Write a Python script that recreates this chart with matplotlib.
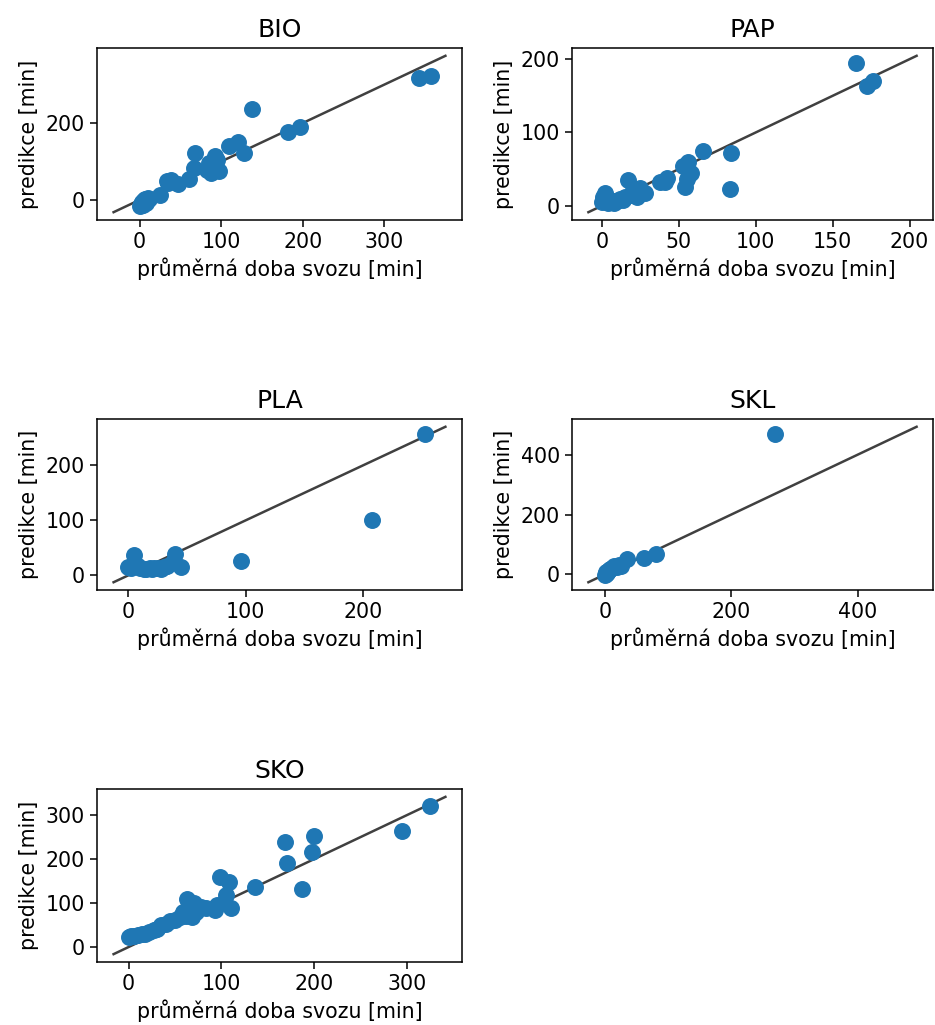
import matplotlib
matplotlib.use("Agg")
import matplotlib.pyplot as plt

W, H = 935, 1025

bio_x = [0, 2, 3, 4, 5, 6, 8, 10, 12, 25, 33, 35, 38, 47, 60, 67, 68, 82, 85, 87, 92, 95, 97, 110, 120, 128, 138, 182, 197, 343, 357]
bio_y = [-15, -10, -5, -12, 0, 3, -8, 5, 2, 13, 50, 45, 52, 42, 54, 83, 122, 78, 96, 70, 113, 105, 74, 141, 150, 122, 236, 176, 190, 317, 323]

pap_x = [0, 0.5, 1, 2, 3, 4, 5, 7, 8, 10, 12, 14, 15, 17, 19, 20, 22, 23, 25, 28, 38, 41, 42, 53, 54, 55, 56, 58, 66, 83, 84, 165, 172, 176]
pap_y = [5, 12, 8, 17, 10, 4, 7, 6, 4, 6, 9, 8, 12, 35, 15, 22, 17, 12, 24, 17, 33, 33, 38, 54, 26, 36, 60, 45, 74, 23, 72, 195, 163, 170]

pla_x = [0, 2, 4, 5, 8, 10, 13, 15, 18, 20, 22, 25, 28, 30, 33, 38, 40, 45, 96, 208, 253]
pla_y = [15, 14, 18, 36, 16, 13, 12, 12, 13, 12, 13, 14, 12, 15, 17, 24, 39, 15, 26, 101, 258]

skl_x = [0, 1, 2, 3, 4, 6, 8, 10, 14, 18, 22, 25, 34, 61, 81, 269]
skl_y = [-3, 2, 8, 5, 12, 14, 18, 22, 27, 25, 30, 28, 50, 53, 68, 470]

sko_x = [0, 3, 6, 10, 14, 18, 22, 27, 30, 35, 40, 44, 50, 55, 58, 62, 63, 66, 68, 70, 72, 75, 78, 83, 93, 95, 98, 105, 108, 110, 136, 168, 171, 187, 198, 200, 294, 325]
sko_y = [22, 24, 26, 27, 29, 30, 34, 38, 42, 50, 52, 58, 62, 68, 80, 70, 109, 95, 68, 100, 80, 88, 92, 88, 85, 96, 160, 119, 148, 88, 137, 238, 192, 131, 217, 252, 263, 321]

titles = ["BIO", "PAP", "PLA", "SKL", "SKO"]
datasets = [(bio_x, bio_y), (pap_x, pap_y), (pla_x, pla_y), (skl_x, skl_y), (sko_x, sko_y)]
xticks_all = [[0, 100, 200, 300], [0, 50, 100, 150, 200], [0, 100, 200], [0, 200, 400], [0, 100, 200, 300]]
yticks_all = [[0, 200], [0, 100, 200], [0, 100, 200], [0, 200, 400], [0, 100, 200, 300]]

xlabel = "průměrná doba svozu [min]"
ylabel = "predikce [min]"

# axes pixel boxes: (left, right) and (top, bottom)
cols = [(97, 462), (572, 933)]
rows = [(48, 220), (419, 590), (789, 962)]

fig = plt.figure(figsize=(W / 100, H / 100), dpi=100)
for i, (title, (xs, ys)) in enumerate(zip(titles, datasets)):
    r, c = divmod(i, 2)
    l, rr = cols[c]
    t, b = rows[r]
    ax = fig.add_axes([l / W, 1 - b / H, (rr - l) / W, (b - t) / H])
    ax.scatter(xs, ys, s=125, color="#1f77b4", zorder=2)
    xl = ax.get_xlim()
    yl = ax.get_ylim()
    lims = [min(xl[0], yl[0]), max(xl[1], yl[1])]
    ax.plot(lims, lims, "k-", alpha=0.75, lw=1.8, zorder=1)
    ax.set_xticks(xticks_all[i])
    ax.set_yticks(yticks_all[i])
    ax.set_title(title, fontsize=18, pad=8)
    ax.set_xlabel(xlabel, fontsize=14.8, labelpad=4)
    ax.set_ylabel(ylabel, fontsize=14.8, labelpad=5)
    ax.tick_params(labelsize=14.8, length=5, width=1.1)
    for s in ax.spines.values():
        s.set_linewidth(1.1)

fig.savefig("out.png", dpi=100)
